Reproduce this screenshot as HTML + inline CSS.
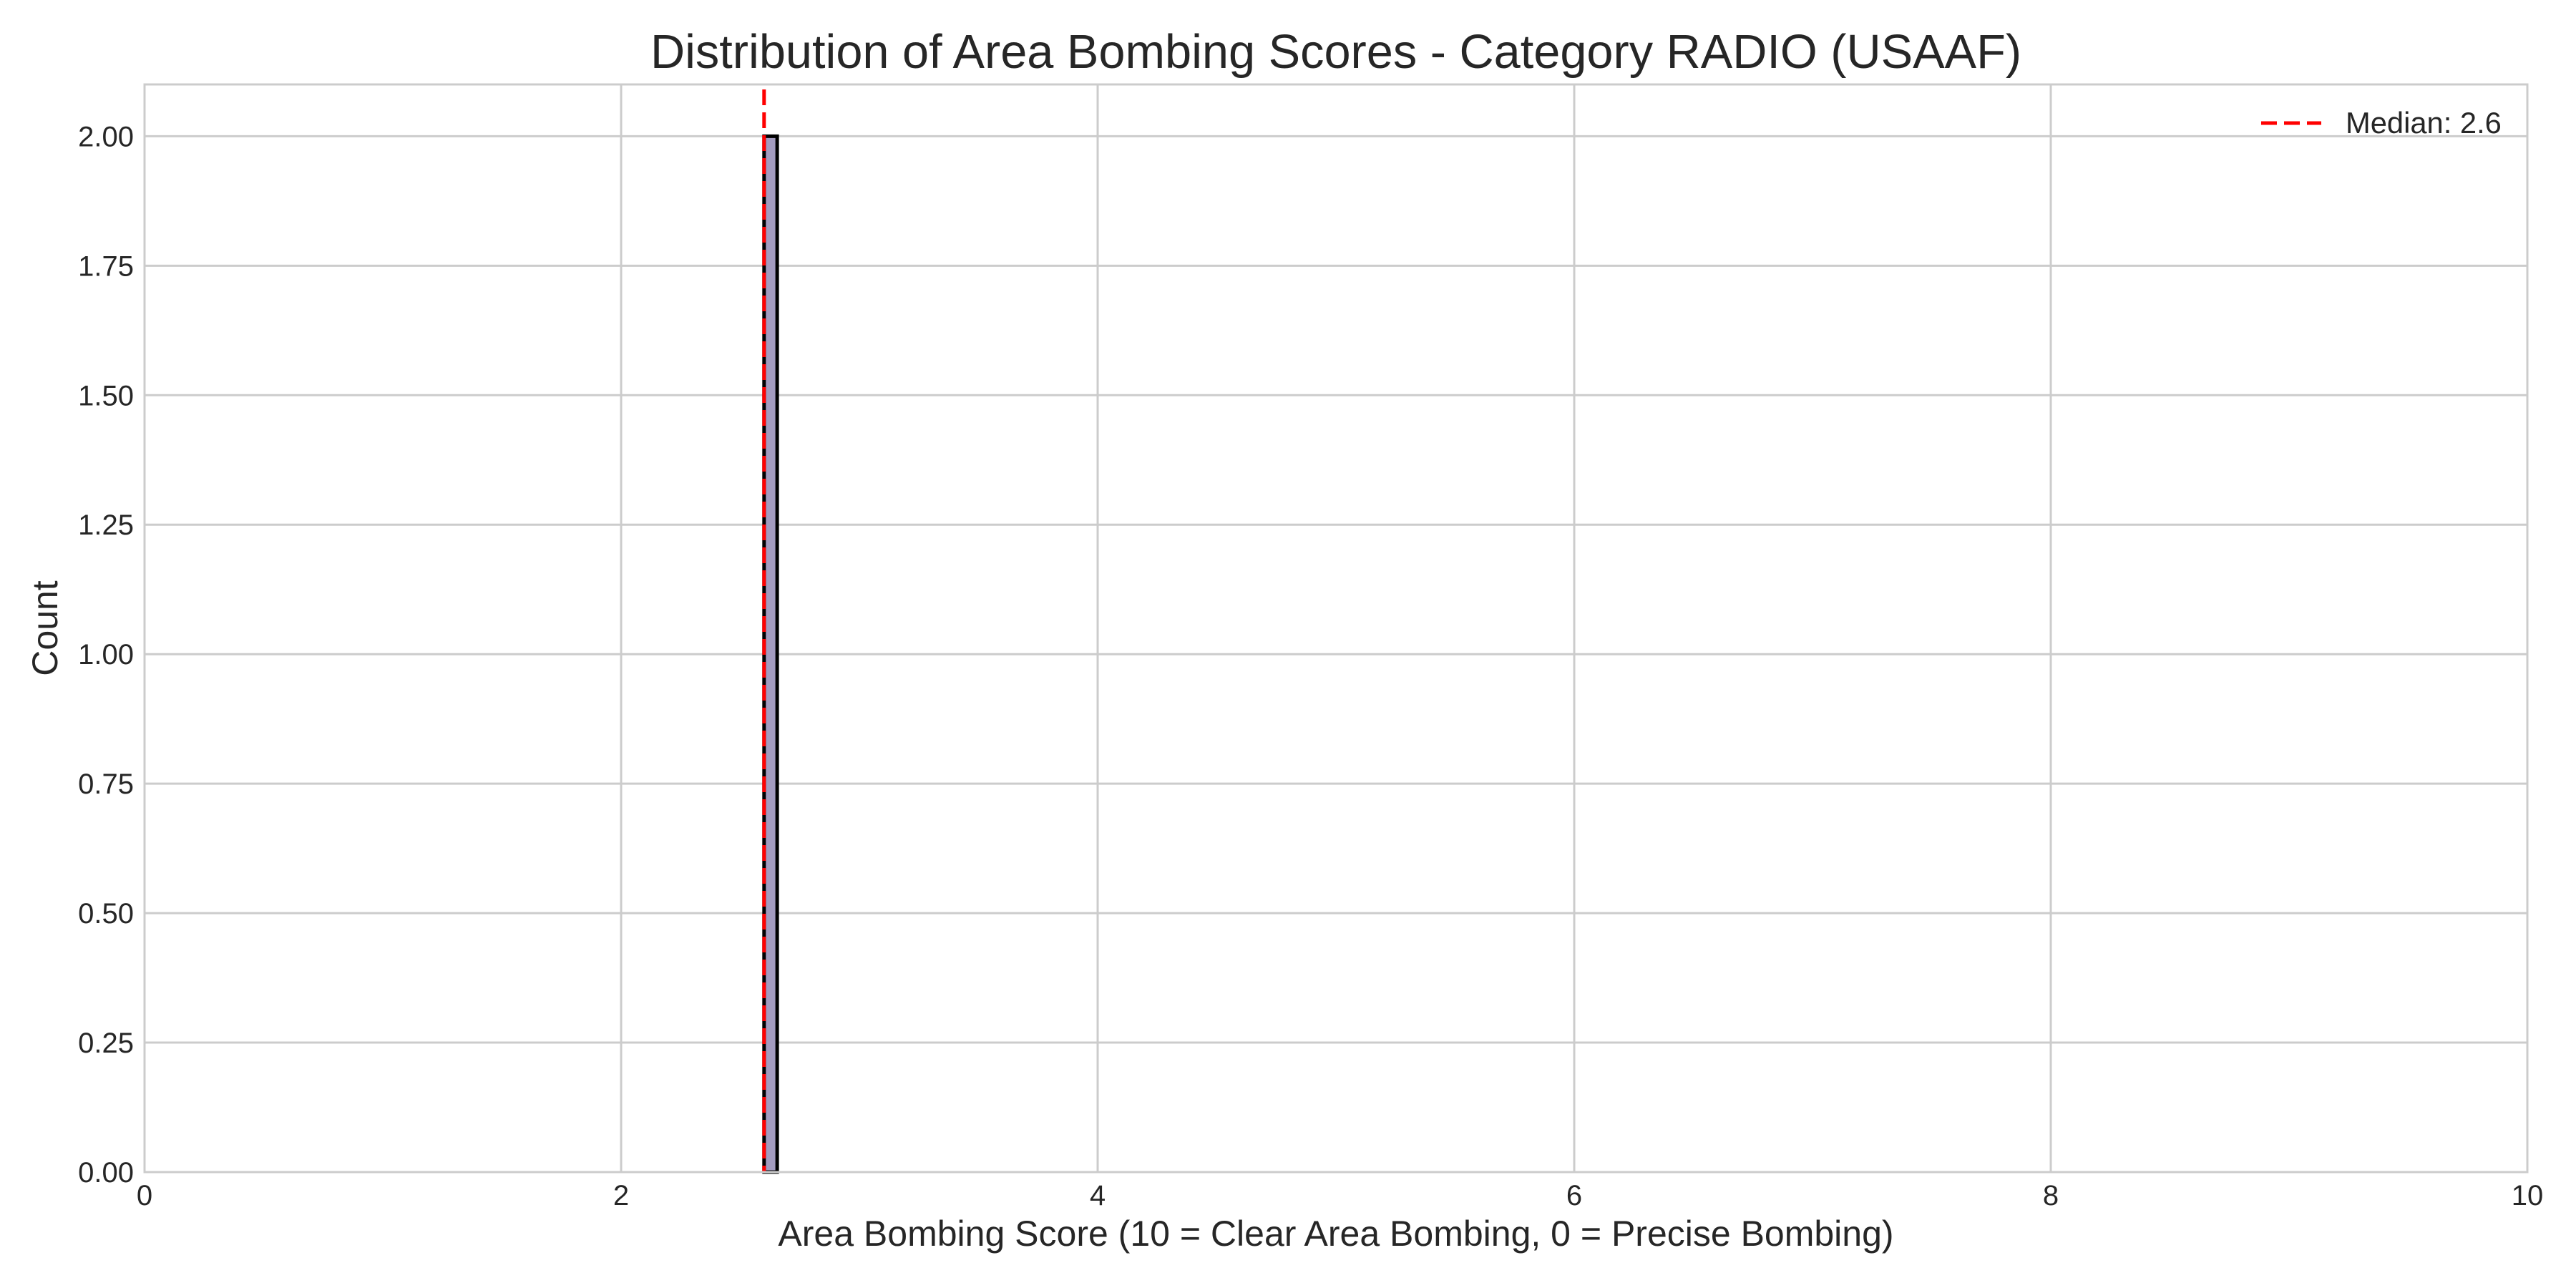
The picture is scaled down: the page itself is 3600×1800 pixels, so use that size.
<!DOCTYPE html>
<html><head><meta charset="utf-8"><style>
html,body{margin:0;padding:0;background:#fff;}
svg{display:block;font-family:"Liberation Sans","DejaVu Sans",sans-serif;}
</style></head><body>
<svg id="chart" width="3600" height="1800" viewBox="0 0 3600 1800">
<rect width="3600" height="1800" fill="#fff"/>
<text x="1867" y="95" font-size="66.7" fill="#262626" text-anchor="middle">Distribution of Area Bombing Scores - Category RADIO (USAAF)</text>
<g id="grid"></g>
<g id="bars"></g>
<g id="median"></g>
<rect x="202" y="118" width="3330" height="1520" fill="none" stroke="#cccccc" stroke-width="3"/>
<g id="ticks"></g>
<text x="1867" y="1741" font-size="50" fill="#262626" text-anchor="middle">Area Bombing Score (10 = Clear Area Bombing, 0 = Precise Bombing)</text>
<text transform="translate(80,878) rotate(-90)" font-size="50" fill="#262626" text-anchor="middle">Count</text>
<g>
<line x1="3160" y1="172" x2="3244" y2="172" stroke="#ff0000" stroke-width="5" stroke-dasharray="22,10"/>
<text x="3278" y="186" font-size="41.7" fill="#262626">Median: 2.6</text>
</g>
</svg>
<script>
const binStarts=[2.6];
const binEnds=[2.655];
const counts=[2];
const medianValue=[2.6];
const xTicks=[0,2,4,6,8,10];
const yTicks=[0,0.25,0.5,0.75,1,1.25,1.5,1.75,2];
const yTickLabels=["0.00","0.25","0.50","0.75","1.00","1.25","1.50","1.75","2.00"];
const X0=202,X1=3532,Y0=1638,Y1=118,XMAX=10,YMAX=2.1;
function sx(v){return X0+(X1-X0)*v/XMAX;}
function sy(v){return Y0-(Y0-Y1)*v/YMAX;}
const NS="http://www.w3.org/2000/svg";
function mk(t,a){const e=document.createElementNS(NS,t);for(const k in a)e.setAttribute(k,a[k]);return e;}
const grid=document.getElementById('grid'),ticks=document.getElementById('ticks'),bars=document.getElementById('bars'),med=document.getElementById('median');
xTicks.forEach(v=>{
 const l=mk('line',{x1:sx(v),x2:sx(v),y1:Y1,y2:Y0,stroke:'#cccccc','stroke-width':3});
 
 
 grid.appendChild(l);
 const t=mk('text',{x:sx(v),y:Y0+46,'font-size':40,fill:'#262626','text-anchor':'middle'});
 t.textContent=v;
 
 
 ticks.appendChild(t);
});
yTicks.forEach((v,i)=>{
 const l=mk('line',{x1:X0,x2:X1,y1:sy(v),y2:sy(v),stroke:'#cccccc','stroke-width':3});
 
 
 grid.appendChild(l);
 const t=mk('text',{x:187,y:sy(v)+14,'font-size':40,fill:'#262626','text-anchor':'end'});
 t.textContent=yTickLabels[i];
 
 
 ticks.appendChild(t);
});
counts.forEach((c,i)=>{
 const r=mk('rect',{x:sx(binStarts[i]),y:sy(c),width:sx(binEnds[i])-sx(binStarts[i]),height:sy(0)-sy(c),fill:'#a39bbf',stroke:'#000','stroke-width':5});
 
 
 bars.appendChild(r);
});
medianValue.forEach(m=>{
 const l=mk('line',{x1:sx(m),x2:sx(m),y1:Y1+7,y2:Y0,stroke:'#ff0000','stroke-width':5,'stroke-dasharray':'22,10'});
 
 
 med.appendChild(l);
});
</script>
</body></html>
